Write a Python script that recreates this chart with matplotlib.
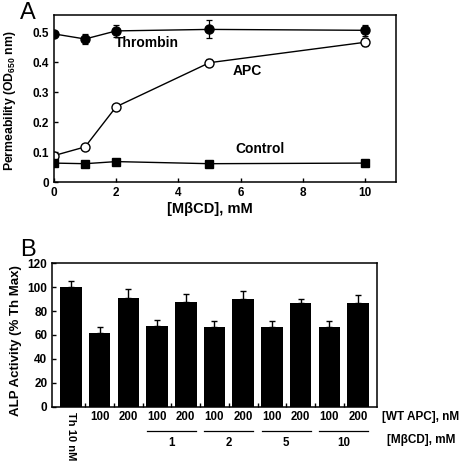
import matplotlib
matplotlib.use("Agg")
import matplotlib.pyplot as plt

plt.rcParams["font.family"] = ["Liberation Sans", "DejaVu Sans"]
plt.rcParams["font.weight"] = "bold"
plt.rcParams["mathtext.fontset"] = "custom"
plt.rcParams["mathtext.rm"] = "Liberation Sans:bold"
plt.rcParams["mathtext.default"] = "rm"

# Panel A: permeability vs MbCD
mbcd_mm = [0, 1, 2, 5, 10]
thrombin = [0.495, 0.478, 0.505, 0.510, 0.507]
thrombin_err = [0.006, 0.018, 0.020, 0.030, 0.018]
apc = [0.089, 0.118, 0.252, 0.399, 0.467]
apc_err = [0.006, 0.006, 0.006, 0.012, 0.014]
control = [0.064, 0.062, 0.069, 0.062, 0.064]
control_err = [0.003, 0.003, 0.003, 0.003, 0.003]

# Panel B: ALP activity bars
bar_labels = ["Th 10 nM", "100", "200", "100", "200", "100", "200",
              "100", "200", "100", "200"]
alp = [100, 61.3, 91, 67.6, 88, 67, 90, 67, 87, 66.4, 86.5]
alp_err = [5, 5, 7.5, 5, 6.5, 4.5, 6.5, 4.5, 3, 5, 7]
group_labels = ["1", "2", "5", "10"]

fig = plt.figure(figsize=(4.61, 4.65), dpi=100)

# ---- Panel A ----
ax = fig.add_axes([0.1171, 0.608, 0.742, 0.3597])
kw = dict(color="black", lw=1.0, capsize=2.5, elinewidth=0.9, capthick=0.9)
ax.errorbar(mbcd_mm, thrombin, yerr=thrombin_err, marker="o", ms=6.5,
            mfc="black", mec="black", **kw)
ax.errorbar(mbcd_mm, apc, yerr=apc_err, marker="o", ms=6.5,
            mfc="white", mec="black", **kw)
ax.errorbar(mbcd_mm, control, yerr=control_err, marker="s", ms=6,
            mfc="black", mec="black", **kw)
ax.set_xlim(0, 11)
ax.set_ylim(0, 0.558)
ax.set_xticks([0, 2, 4, 6, 8, 10])
ax.set_yticks([0, 0.1, 0.2, 0.3, 0.4, 0.5])
ax.set_yticklabels(["0", "0.1", "0.2", "0.3", "0.4", "0.5"])
ax.tick_params(direction="in", labelsize=8.5, length=3, width=1)
for lab in ax.get_xticklabels() + ax.get_yticklabels():
    lab.set_fontweight("bold")
for s in ax.spines.values():
    s.set_linewidth(1.1)
ax.text(2.98, 0.466, "Thrombin", ha="center", va="center", fontsize=10, fontweight="bold")
ax.text(6.23, 0.372, "APC", ha="center", va="center", fontsize=10, fontweight="bold")
ax.text(6.64, 0.111, "Control", ha="center", va="center", fontsize=10, fontweight="bold")
ax.set_xlabel("[M\u03b2CD], mM", fontsize=10.5, fontweight="bold")
ax.xaxis.set_label_coords(0.456, -0.12)
ax.set_ylabel("Permeability (OD$_{650}$ nm)", fontsize=8.8, fontweight="bold")
ax.yaxis.set_label_coords(-0.105, 0.49)
fig.text(0.043, 0.996, "A", fontsize=17, fontweight="normal", va="top", ha="left")

# ---- Panel B ----
bx = fig.add_axes([0.1135, 0.1254, 0.7035, 0.3084])
xs = list(range(len(alp)))
bx.bar(xs, alp, width=0.75, color="black")
bx.errorbar(xs, alp, yerr=[[0] * len(alp), alp_err], fmt="none",
            ecolor="black", elinewidth=1.0, capsize=2.5, capthick=1.0)
bx.set_xlim(-0.65, 10.65)
bx.set_ylim(0, 120)
bx.set_yticks(range(0, 121, 20))
bx.set_xticks([i + 0.5 for i in range(10)])
bx.set_xticklabels([])
bx.tick_params(direction="in", labelsize=8.5, length=3, width=1)
for lab in bx.get_yticklabels():
    lab.set_fontweight("bold")
for s in bx.spines.values():
    s.set_linewidth(1.1)
bx.set_ylabel("ALP Activity (% Th Max)", fontsize=9.5, fontweight="bold")
bx.yaxis.set_label_coords(-0.095, 0.458)

tr = bx.get_xaxis_transform()
bx.text(0, -0.04, bar_labels[0], rotation=270, ha="center", va="top",
        fontsize=8, fontweight="bold", transform=tr)
for i in xs[1:]:
    bx.text(i, -0.07, bar_labels[i], ha="center", va="center",
            fontsize=8.3, fontweight="bold", transform=tr)
for g, lab in enumerate(group_labels):
    c = 3.5 + 2 * g
    bx.plot([c - 0.85, c + 0.85], [-0.167, -0.167], color="black", lw=0.9,
            transform=tr, clip_on=False)
    bx.text(c, -0.25, lab, ha="center", va="center", fontsize=8.3,
            fontweight="bold", transform=tr)
bx.text(1.015, -0.07, "[WT APC], nM", ha="left", va="center", fontsize=8.5,
        fontweight="bold", transform=bx.transAxes)
bx.text(1.031, -0.23, "[M\u03b2CD], mM", ha="left", va="center", fontsize=8.5,
        fontweight="bold", transform=bx.transAxes)
fig.text(0.043, 0.487, "B", fontsize=17, fontweight="normal", va="top", ha="left")

fig.savefig("out.png", dpi=100)
